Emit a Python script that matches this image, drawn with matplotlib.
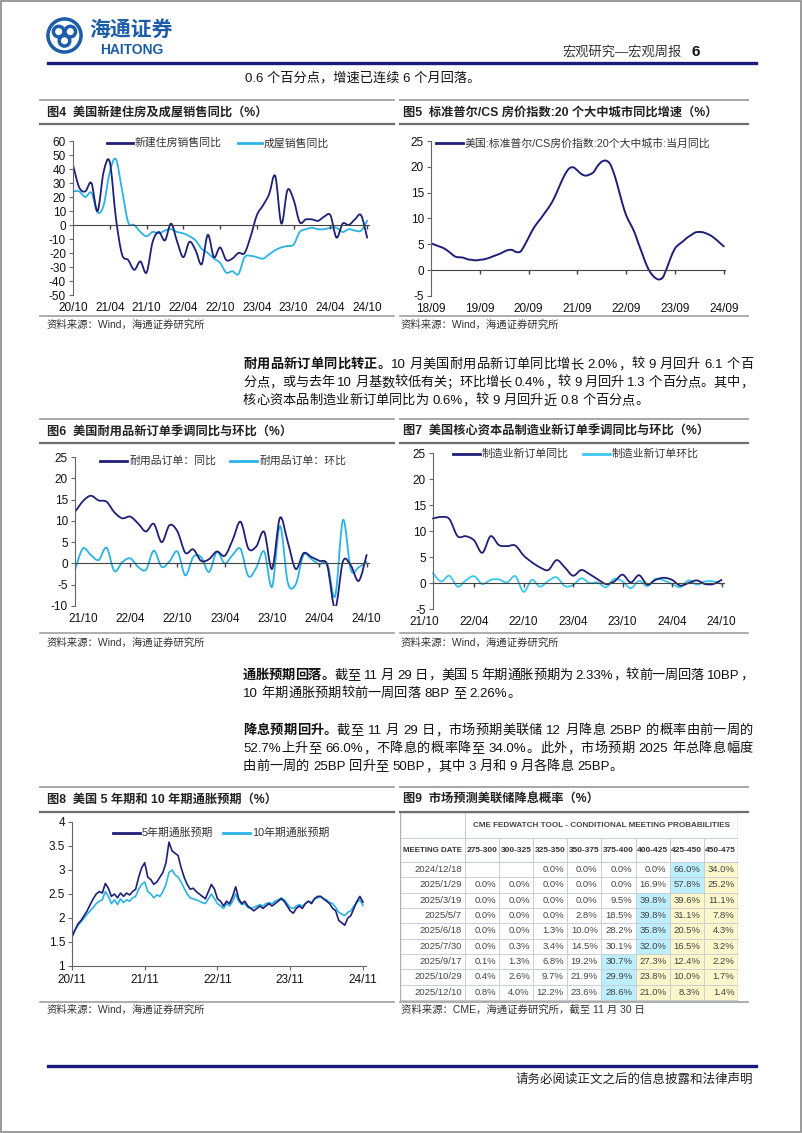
import re
import matplotlib
matplotlib.use('Agg')
import matplotlib.pyplot as plt
from matplotlib.lines import Line2D
from matplotlib.patches import Rectangle, Circle, PathPatch
from matplotlib.path import Path

plt.rcParams['font.family'] = ['Liberation Sans', 'Noto Sans CJK SC']
plt.rcParams['axes.unicode_minus'] = False

W, H = 802, 1133
NAVY = '#1f1f78'
SKY = '#2bb3e6'
GRAY = '#8c8c8c'

# ---- 图4 美国新建住房及成屋销售同比, 2020/10 - 2024/10 monthly
hs_ticks = ['20/10', '21/04', '21/10', '22/04', '22/10', '23/04', '23/10', '24/04', '24/10']
new_home = [43, 27, 24, 30, 10, 38, 45, 5, -21, -25, -32, -26, -34, -12, -5, -11, 1, -12,
            -23, -12, -18, -28, -7, -23, -16, -25, -24, -20, -20, -8, 7, 14, 22, 35, 1, 25,
            18, 2, 4, 4, 3, 6, 7, -9, 1, 0, 4, 7, -9]
existing = [24, 24, 20, 23, 9, 14, 38, 47, 25, 2, 0, -5, -8, -5, -6, -4, -3, -5, -6, -8,
            -11, -17, -20, -24, -27, -34, -33, -35, -23, -22, -23, -24, -21, -18, -16, -15,
            -14, -5, -3, -2, -3, -3, -2, -2, -5, -3, -4, -4, 3]

# ---- 图5 标准普尔/CS 20城同比, 2018/09 - 2024/09 monthly
cs_ticks = ['18/09', '19/09', '20/09', '21/09', '22/09', '23/09', '24/09']
cs20 = [5.2, 4.9, 4.6, 4.3, 3.8, 3.2, 2.6, 2.5, 2.4, 2.1, 2.0, 1.9, 2.0, 2.1, 2.3, 2.6,
        2.9, 3.2, 3.6, 3.9, 3.9, 3.5, 3.6, 4.8, 6.3, 7.8, 9.0, 10.0, 11.1, 12.2, 13.5,
        15.2, 17.0, 18.6, 19.7, 19.9, 19.3, 18.6, 18.3, 18.5, 19.0, 20.2, 21.0, 21.2,
        20.6, 18.7, 16.0, 13.1, 10.6, 9.0, 7.4, 5.2, 3.1, 1.0, -0.5, -1.4, -1.8, -1.4,
        0.4, 2.5, 4.2, 5.0, 5.6, 6.3, 6.8, 7.3, 7.4, 7.3, 7.0, 6.6, 6.0, 5.3, 4.6]

# ---- 图6 耐用品订单, 2021/09 - 2024/10 monthly
dg_ticks = ['21/10', '22/04', '22/10', '23/04', '23/10', '24/04', '24/10']
dg_yoy = [12.1, 14.6, 15.9, 14.8, 14.5, 12.0, 10.6, 11.0, 9.4, 7.5, 9.3, 5.0, 9.0, 7.5,
          2.5, 3.3, 0.6, 1.0, 2.8, 1.8, 5.5, 9.8, 3.5, 4.0, 7.4, -1.3, 10.7, 5.0, -1.3,
          2.4, 1.5, 0.6, -0.5, -10.5, 0.5, -0.5, -4.1, 2.0]
dg_mom = [-1.5, 3.5, 2.0, 0.8, 3.7, -1.8, 0.3, 1.2, -0.8, -1.5, 3.0, -0.8, 0.5, 2.8,
          -2.8, 1.5, 1.5, -2.0, 2.7, 0.0, 2.0, 3.4, -3.0, -1.0, 2.8, -5.5, 8.8, -4.5,
          -4.9, 2.0, 1.0, -0.2, 0.0, -7.7, 10.2, -1.5, -0.9, 0.4]

# ---- 图7 核心资本品订单, 2021/11 - 2024/10 monthly
cg_ticks = ['21/10', '22/04', '22/10', '23/04', '23/10', '24/04', '24/10']
cg_yoy = [12.4, 12.7, 12.3, 9.0, 9.0, 8.2, 5.8, 9.0, 7.3, 7.1, 7.2, 5.3, 4.0, 3.0, 2.5,
          4.4, 3.0, 1.4, 2.5, 1.7, 0.7, -0.2, 0.3, 1.6, 0.1, 1.5, -0.3, 0.6, 1.0, 0.6,
          -0.5, 0.0, 0.5, -0.2, -0.2, 0.6]
cg_mom = [1.9, 0.3, 1.4, -0.7, 0.5, 1.3, -0.2, 0.6, 0.7, 0.1, 1.3, -1.7, 0.6, -0.7, 0.4,
          1.1, -0.6, -0.4, 0.9, 0.0, 0.1, -0.8, 0.8, 0.3, -1.0, 0.4, -0.6, 0.8, 0.5, -0.2,
          -0.8, 0.5, -0.3, 0.3, 0.3, -0.2]

# ---- 图8 通胀预期, 2020/11 - 2024/11, read every half month
be_ticks = ['20/11', '21/11', '22/11', '23/11', '24/11']
be5 = [1.60, 1.75, 1.88, 1.95, 2.05, 2.15, 2.28, 2.40,
       2.50, 2.55, 2.52, 2.72, 2.62, 2.45, 2.50, 2.42, 2.52, 2.45, 2.52, 2.48, 2.55,
       2.60, 2.85, 3.05, 3.15,
       2.85, 2.80, 2.70, 2.75, 2.85, 2.95, 3.15, 3.58, 3.40, 3.35, 3.30, 3.05, 2.85,
       2.70, 2.60, 2.62, 2.55, 2.50, 2.45, 2.40, 2.55, 2.70, 2.60, 2.40,
       2.35, 2.25, 2.35, 2.30, 2.45, 2.65, 2.40, 2.30, 2.35, 2.25, 2.20, 2.15, 2.20,
       2.25, 2.20, 2.25, 2.30, 2.25, 2.30, 2.35, 2.40, 2.35, 2.25, 2.15, 2.10, 2.20,
       2.25, 2.20, 2.30, 2.35, 2.30, 2.40, 2.45, 2.45, 2.40, 2.35, 2.30, 2.20, 2.15,
       1.95, 1.90, 1.85, 2.00, 2.05, 2.20, 2.35, 2.45, 2.33]
be10 = [1.65, 1.75, 1.85, 1.92, 2.00, 2.08, 2.15, 2.22,
        2.30, 2.35, 2.38, 2.55, 2.45, 2.30, 2.38, 2.28, 2.40, 2.32, 2.38, 2.35, 2.42,
        2.45, 2.60, 2.70, 2.75,
        2.55, 2.50, 2.42, 2.48, 2.45, 2.55, 2.70, 2.95, 3.00, 2.90, 2.85, 2.75, 2.62,
        2.50, 2.42, 2.40, 2.38, 2.35, 2.32, 2.30, 2.40, 2.50, 2.40, 2.30,
        2.25, 2.20, 2.30, 2.25, 2.35, 2.50, 2.35, 2.28, 2.30, 2.22, 2.20, 2.22, 2.25,
        2.28, 2.25, 2.30, 2.32, 2.30, 2.35, 2.38, 2.42, 2.38, 2.30, 2.22, 2.20, 2.25,
        2.28, 2.25, 2.30, 2.35, 2.32, 2.40, 2.42, 2.45, 2.40, 2.38, 2.32, 2.30, 2.22,
        2.12, 2.08, 2.05, 2.12, 2.15, 2.25, 2.32, 2.38, 2.26]

# ---- 图9 CME FedWatch table
meetings = ['2024/12/18', '2025/1/29', '2025/3/19', '2025/5/7', '2025/6/18', '2025/7/30',
            '2025/9/17', '2025/10/29', '2025/12/10']
ranges = ['275-300', '300-325', '325-350', '350-375', '375-400', '400-425', '425-450', '450-475']
probs = [
    [None, None, 0.0, 0.0, 0.0, 0.0, 66.0, 34.0],
    [0.0, 0.0, 0.0, 0.0, 0.0, 16.9, 57.8, 25.2],
    [0.0, 0.0, 0.0, 0.0, 9.5, 39.8, 39.6, 11.1],
    [0.0, 0.0, 0.0, 2.8, 18.5, 39.8, 31.1, 7.8],
    [0.0, 0.0, 1.3, 10.0, 28.2, 35.8, 20.5, 4.3],
    [0.0, 0.3, 3.4, 14.5, 30.1, 32.0, 16.5, 3.2],
    [0.1, 1.3, 6.8, 19.2, 30.7, 27.3, 12.4, 2.2],
    [0.4, 2.6, 9.7, 21.9, 29.9, 23.8, 10.0, 1.7],
    [0.8, 4.0, 12.2, 23.6, 28.6, 21.0, 8.3, 1.4],
]

fig = plt.figure(figsize=(W / 100, H / 100), dpi=100)
renderer = fig.canvas.get_renderer()


def fx(x):
    return x / W


def fy(y):
    return 1 - y / H


def hline(x0, x1, y, color=GRAY, lw=1.0):
    fig.add_artist(Line2D([fx(x0), fx(x1)], [fy(y), fy(y)], color=color, lw=lw))


def txt(x, y, s, size=9, **kw):
    kw.setdefault('va', 'center')
    return fig.text(fx(x), fy(y), s, fontsize=size, **kw)


def width_of(t):
    return t.get_window_extent(renderer).width


def para_line(x, y, segs, right=None, size=9.5):
    # lay out tokens one by one; spread the slack if the line is justified
    probe = txt(0, -50, 'x x', size=size)
    probe2 = txt(0, -50, 'xx', size=size)
    space = width_of(probe) - width_of(probe2)
    probe.remove()
    probe2.remove()
    items = []
    for s, bold in segs:
        for tok in re.findall(r'[A-Za-z0-9.%]+| |.', s):
            if tok == ' ':
                items.append((None, space))
            else:
                t = txt(x, y, tok, size=size, color='#111',
                        fontweight='bold' if bold else 'normal')
                items.append((t, width_of(t)))
    gap = 0
    if right is not None and len(items) > 1:
        gap = (right - x - sum(w for _, w in items)) / (len(items) - 1)
    cx = x
    for t, w in items:
        if t is not None:
            t.set_x(fx(cx))
        cx += w + gap


def smooth_line(ax, ys, color, lw):
    # Excel-style smoothed line: Catmull-Rom segments drawn as cubic Beziers
    n = len(ys)
    verts = [(0, ys[0])]
    codes = [Path.MOVETO]
    for i in range(n - 1):
        i0, i3 = max(i - 1, 0), min(i + 2, n - 1)
        c1 = (i + (i + 1 - i0) / 6, ys[i] + (ys[i + 1] - ys[i0]) / 6)
        c2 = (i + 1 - (i3 - i) / 6, ys[i + 1] - (ys[i3] - ys[i]) / 6)
        verts += [c1, c2, (i + 1, ys[i + 1])]
        codes += [Path.CURVE4] * 3
    ax.add_patch(PathPatch(Path(verts, codes), fill=False, ec=color, lw=lw,
                           joinstyle='round', capstyle='round'))


def leg(x0, x1, y, color, label):
    fig.add_artist(Line2D([fx(x0), fx(x1)], [fy(y), fy(y)], color=color, lw=2))
    txt(x1 + 2, y, label, size=7.8, color='#333')


def make_ax(x0, y0, x1, y1):
    ax = fig.add_axes([fx(x0), fy(y1), fx(x1) - fx(x0), fy(y0) - fy(y1)])
    ax.patch.set_alpha(0)
    for s in ['top', 'right', 'bottom']:
        ax.spines[s].set_visible(False)
    ax.spines['left'].set_color('#666')
    ax.tick_params(axis='y', direction='out', length=3, labelsize=8.5, color='#666',
                   labelcolor='#111', pad=2)
    ax.tick_params(axis='x', length=0, labelsize=8.5, labelcolor='#111', pad=5)
    return ax


def zero_axis(ax, x0, x1, ticks):
    ax.plot([x0, x1], [0, 0], color='#444', lw=0.8, clip_on=False)
    ax.plot(ticks, [0] * len(ticks), ls='none', marker=3, ms=3, color='#444',
            clip_on=False)


def section_lines(x0, x1, ytop, ymid, ybot):
    hline(x0, x1, ytop, '#a0a0a0', 1.3)
    hline(x0, x1, ymid, '#6f6f6f', 1.6)
    hline(x0, x1, ybot, '#a0a0a0', 1.2)


def title(x, y, s):
    txt(x, y, s, size=8.8, fontweight='bold', color='#222')


def source(x, y, s='资料来源：Wind，海通证券研究所'):
    txt(x, y, s, size=7.5, color='#333')


# ---------- page frame and header
fig.add_artist(Rectangle((0.6 / W, 0.6 / H), 1 - 1.6 / W, 1 - 1.6 / H, fill=False,
                         ec='#8a8a8a', lw=1.2, transform=fig.transFigure))
lg = fig.add_axes([fx(46), fy(55), 37 / W, 39 / H])
lg.set_xlim(-1.05, 1.05)
lg.set_ylim(-1.05, 1.05)
lg.set_aspect('equal')
lg.axis('off')
lg.add_patch(Circle((0, 0), 1.0, color='#1d5ca8'))
lg.add_patch(Circle((0, 0), 0.80, color='white'))
for cx, cy in [(-0.33, 0.22), (0.33, 0.22), (0, -0.3)]:
    lg.add_patch(Circle((cx, cy), 0.36, color='#1d5ca8'))
    lg.add_patch(Circle((cx, cy), 0.16, color='white'))
txt(89, 30, '海通证券', size=15, color='#1d5ca8', fontweight='bold', style='italic')
txt(100, 50, 'HAITONG', size=10, color='#1d5ca8', fontweight='bold')
txt(562, 52, '宏观研究—宏观周报', size=9.5, color='#333')
txt(692, 52, '6', size=11, color='#111', fontweight='bold')
hline(48, 756, 63, '#1b1b7e', 2.4)
txt(245, 78, '0.6 个百分点，增速已连续 6 个月回落。', size=9.5, color='#111')

# ---------- row 1
section_lines(40, 394, 100, 124, 316)
section_lines(400, 748, 100, 124, 316)
title(47, 113, '图4  美国新建住房及成屋销售同比（%）')
title(403, 113, '图5  标准普尔/CS 房价指数:20 个大中城市同比增速（%）')
source(47, 325)
source(401, 325)

ax4 = make_ax(73, 141, 369, 295)
smooth_line(ax4, existing, SKY, 1.3)
smooth_line(ax4, new_home, NAVY, 1.3)
ax4.set_xlim(0, 48.3)
ax4.set_ylim(-50, 60)
ax4.set_yticks(range(-50, 61, 10))
ax4.set_xticks(range(0, 49, 6))
ax4.set_xticklabels(hs_ticks)
zero_axis(ax4, 0, 48.3, list(range(6, 49, 6)))
leg(107, 133, 143, NAVY, '新建住房销售同比')
leg(238, 262, 143, SKY, '成屋销售同比')

ax5 = make_ax(431, 141, 725, 296)
smooth_line(ax5, cs20, NAVY, 1.4)
ax5.set_xlim(0, 72.3)
ax5.set_ylim(-5, 25)
ax5.set_yticks(range(-5, 26, 5))
ax5.set_xticks(range(0, 73, 12))
ax5.set_xticklabels(cs_ticks)
zero_axis(ax5, 0, 72.3, list(range(12, 73, 12)))
leg(436, 463, 143, NAVY, '美国:标准普尔/CS房价指数:20个大中城市:当月同比')

# ---------- paragraph 1
RIGHT = 753
para_line(243, 365, [('耐用品新订单同比转正。', True),
                     ('10 月美国耐用品新订单同比增长 2.0%，较 9 月回升 6.1 个百', False)], RIGHT)
para_line(243, 383, [('分点，或与去年 10 月基数较低有关；环比增长 0.4%，较 9 月回升 1.3 个百分点。其中，',
                      False)], RIGHT)
para_line(243, 401, [('核心资本品制造业新订单同比为 0.6%，较 9 月回升近 0.8 个百分点。', False)])

# ---------- row 2
section_lines(40, 394, 419, 443, 633)
section_lines(400, 748, 419, 443, 633)
title(47, 432, '图6  美国耐用品新订单季调同比与环比（%）')
title(403, 432, '图7  美国核心资本品制造业新订单季调同比与环比（%）')
source(47, 643)
source(401, 643)

ax6 = make_ax(75, 457, 369, 606)
smooth_line(ax6, dg_mom, SKY, 1.3)
smooth_line(ax6, dg_yoy, NAVY, 1.3)
ax6.set_xlim(0, 37.3)
ax6.set_ylim(-10, 25)
ax6.set_yticks(range(-10, 26, 5))
ax6.set_xticks(range(1, 38, 6))
ax6.set_xticklabels(dg_ticks)
zero_axis(ax6, 0, 37.3, list(range(7, 38, 6)))
leg(100, 127, 461, NAVY, '耐用品订单：同比')
leg(230, 257, 461, SKY, '耐用品订单：环比')

ax7 = make_ax(418, 453, 724, 609)
ax7.spines['left'].set_position(('data', 0))
smooth_line(ax7, cg_mom, '#3cc6f0', 1.3)
smooth_line(ax7, cg_yoy, NAVY, 1.3)
ax7.set_xlim(-1.8, 35.3)
ax7.set_ylim(-5, 25)
ax7.set_yticks(range(-5, 26, 5))
ax7.set_xticks(range(-1, 36, 6))
ax7.set_xticklabels(cg_ticks)
zero_axis(ax7, 0, 35.3, list(range(5, 36, 6)))
leg(453, 480, 454, NAVY, '制造业新订单同比')
leg(583, 610, 454, '#3cc6f0', '制造业新订单环比')

# ---------- paragraphs 2 and 3
para_line(243, 676, [('通胀预期回落。', True),
                     ('截至 11 月 29 日，美国 5 年期通胀预期为 2.33%，较前一周回落 10BP，', False)],
          RIGHT)
para_line(243, 694, [('10 年期通胀预期较前一周回落 8BP 至 2.26%。', False)])
para_line(243, 731, [('降息预期回升。', True),
                     ('截至 11 月 29 日，市场预期美联储 12 月降息 25BP 的概率由前一周的', False)],
          RIGHT)
para_line(243, 749, [('52.7%上升至 66.0%，不降息的概率降至 34.0%。此外，市场预期 2025 年总降息幅度',
                      False)], RIGHT)
para_line(243, 767, [('由前一周的 25BP 回升至 50BP，其中 3 月和 9 月各降息 25BP。', False)])

# ---------- row 3
section_lines(40, 394, 787, 812, 1002)
section_lines(400, 748, 787, 812, 1002)
title(47, 800, '图8  美国 5 年期和 10 年期通胀预期（%）')
title(403, 800, '图9  市场预测美联储降息概率（%）')
source(47, 1010)
source(401, 1010, '资料来源：CME，海通证券研究所，截至 11 月 30 日')

ax8 = make_ax(72, 822, 366, 966)
ax8.spines['bottom'].set_visible(True)
ax8.spines['bottom'].set_color('#666')
ax8.plot(range(len(be10)), be10, color=SKY, lw=1.2)
ax8.plot(range(len(be5)), be5, color=NAVY, lw=1.2)
ax8.set_xlim(0, 97)
ax8.set_ylim(1, 4)
ax8.set_yticks([1, 1.5, 2, 2.5, 3, 3.5, 4])
ax8.set_yticklabels(['1', '1.5', '2', '2.5', '3', '3.5', '4'])
ax8.set_xticks(range(0, 97, 24))
ax8.set_xticklabels(be_ticks)
ax8.tick_params(axis='x', length=3, color='#666', pad=3)
leg(113, 140, 833, NAVY, '5年期通胀预期')
leg(223, 250, 833, SKY, '10年期通胀预期')

# 图9 table
xe = [400, 465, 499, 533, 567, 601, 636, 670, 704, 738]
ye = [812, 838, 862] + [862 + 15.33 * (i + 1) for i in range(len(meetings))]
at = fig.add_axes([fx(400), fy(1001), 338 / W, 189 / H])
at.set_xlim(400, 738.5)
at.set_ylim(1001, 812)
at.axis('off')
GRID = '#c5ccd6'
for r, row in enumerate(probs):
    best = max(range(len(row)), key=lambda k: row[k] if row[k] is not None else -1)
    y0, y1 = ye[r + 2], ye[r + 3]
    for c, v in enumerate(row):
        fc = 'white'
        if c == best:
            fc = '#bdeefb'
        elif c > best:
            fc = '#fbf7cb'
        at.add_patch(Rectangle((xe[c + 1], y0), xe[c + 2] - xe[c + 1], y1 - y0, fc=fc,
                               ec=GRID, lw=0.6))
        if v is not None:
            at.text(xe[c + 2] - 3, (y0 + y1) / 2, f'{v:.1f}%', ha='right', va='center',
                    fontsize=6.8, color='#444')
    at.add_patch(Rectangle((400, y0), 65, y1 - y0, fc='white', ec=GRID, lw=0.6))
    at.text(462, (y0 + y1) / 2, meetings[r], ha='right', va='center', fontsize=6.8,
            color='#444')
at.add_patch(Rectangle((400, 812), 65, 26, fc='none', ec=GRID, lw=0.6))
at.add_patch(Rectangle((465, 812), 273, 26, fc='none', ec=GRID, lw=0.6))
at.text(601.5, 825, 'CME FEDWATCH TOOL - CONDITIONAL MEETING PROBABILITIES', ha='center',
        va='center', fontsize=5.9, fontweight='bold', color='#444')
at.add_patch(Rectangle((400, 838), 65, 24, fc='none', ec=GRID, lw=0.6))
at.text(432.5, 850, 'MEETING DATE', ha='center', va='center', fontsize=5.7,
        fontweight='bold', color='#333')
for c, rg in enumerate(ranges):
    at.add_patch(Rectangle((xe[c + 1], 838), xe[c + 2] - xe[c + 1], 24, fc='none',
                           ec=GRID, lw=0.6))
    at.text((xe[c + 1] + xe[c + 2]) / 2, 850, rg, ha='center', va='center', fontsize=6.0,
            fontweight='bold', color='#333')
at.add_patch(Rectangle((400, 812), 338, 189, fc='none', ec='#b0b0b0', lw=1.0))

# ---------- footer
hline(48, 756, 1066, '#1b1b7e', 2.4)
txt(753, 1080, '请务必阅读正文之后的信息披露和法律声明', size=9, color='#222', ha='right')

fig.savefig('out.png', dpi=100)
